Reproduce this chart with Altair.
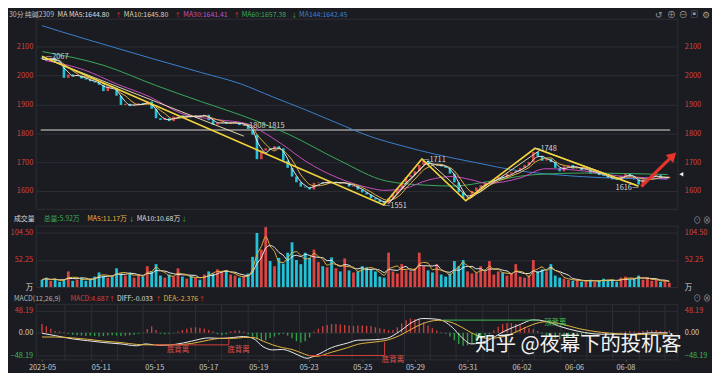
import altair as alt
import pandas as pd

# ---------------- data ----------------
first_open = 2062
close = [
    2058, 2052, 2062, 2048, 2040, 1992, 2004, 1998, 2000, 1990,
    1986, 1980, 1976, 1968, 1946, 1962, 1958, 1930, 1898, 1902,
    1894, 1898, 1904, 1900, 1910, 1885, 1852, 1846, 1852, 1842,
    1858, 1862, 1855, 1860, 1856, 1862, 1858, 1864, 1845, 1830,
    1836, 1840, 1832, 1836, 1838, 1828, 1830, 1815, 1795, 1710,
    1740, 1748, 1742, 1755, 1748, 1705, 1680, 1650, 1630, 1615,
    1612, 1605, 1628, 1630, 1625, 1632, 1628, 1630, 1626, 1628,
    1615, 1618, 1605, 1595, 1588, 1575, 1570, 1562, 1556, 1575,
    1590, 1610, 1625, 1648, 1655, 1668, 1690, 1705, 1690, 1688,
    1692, 1685, 1680, 1660, 1630, 1595, 1575, 1578, 1600, 1612,
    1620, 1630, 1632, 1640, 1650, 1645, 1660, 1665, 1670, 1680,
    1690, 1700, 1735, 1720, 1705, 1712, 1700, 1680, 1668, 1685,
    1690, 1678, 1682, 1672, 1676, 1660, 1665, 1655, 1652, 1645,
    1640, 1638, 1652, 1662, 1650, 1640, 1622, 1640, 1648, 1650,
    1655, 1642, 1645, 1648]

volume = [
    14, 18, 12, 16, 10, 14, 30, 12, 14, 18,
    12, 16, 20, 28, 22, 18, 20, 36, 26, 22,
    28, 18, 24, 20, 40, 30, 44, 22, 18, 24,
    20, 36, 20, 16, 22, 18, 14, 24, 30, 26,
    34, 30, 32, 24, 22, 18, 20, 26, 58, 104,
    72, 115, 50, 40, 56, 45, 66, 86, 52, 44,
    66, 56, 72, 48, 40, 38, 57, 36, 30, 55,
    32, 28, 30, 40, 38, 34, 30, 20, 18, 66,
    30, 26, 44, 32, 30, 36, 66, 40, 32, 28,
    44, 24, 20, 26, 50, 40, 52, 30, 26, 28,
    40, 30, 50, 24, 30, 28, 22, 26, 44, 20,
    18, 22, 52, 30, 34, 30, 44, 22, 18, 16,
    14, 12, 14, 10, 12, 14, 10, 12, 16, 12,
    14, 10, 18, 20, 14, 16, 22, 14, 18, 12,
    14, 10, 12, 8]

macd_hist = [
    19, 14, 9, 4, 3, 2,
    -2, -4, -5, -6, -7, -6, -7, -8, -7, -6, -5, -6, -7, -6, -5, -4, -2, -1,
    8, 14, 6, -2, -3, -2, -1,
    3, 6, 9, 11, 12, 11, 9, 6, 3,
    -3, -5, -3, 3, 5, 5, 3,
    -3, -8, -14, -17, -16, -12, -8, -4, -2,
    -6, -12, -18, -21, -18, -10,
    3, 9, 14, 17, 19, 19, 18, 17, 16, 15, 16,
    16, 15, 14, 12, 10, 8, 6, 6,
    12, 20, 27, 31, 30, 28, 22, 16, 10, 5,
    2, -2,
    -8, -16, -24, -28, -27, -24, -19, -13, -8, -3,
    5, 13, 19, 21, 21, 19, 16, 13, 10, 8, 4,
    -2, -6, -10, -13, -14, -13, -11, -9, -7, -5, -3,
    -2, -1, 1, 2, -1, -2, -1, 2, 3,
    4, 3, 2, 4, 6, 5, 6, 4, 4, 5]

macd_i = [0, 3.0, 6.9, 10.4, 14.1, 18.0, 21.5, 23.7, 26.8, 30.4, 34.1, 37.9, 40.8,
          43.7, 45.9, 48.1, 50.4, 52.6, 54.8, 57.0, 59.3, 60.4, 62.4, 66.0, 69.7,
          71.9, 75.7, 78.6, 81.5, 84.6, 86.8, 90.4, 93.5, 95.7, 97.9, 101.5, 105.3,
          109.0, 111.9, 114.8, 118.0, 122.4, 127.5, 131.3, 134.8, 138.6, 142.6]
diff = [-1, -6, -13, -17, -21, -24, -28, -24, -27, -25, -18, -11, -12,
        -10, -8, -12, -30, -37, -36, -42, -52, -55, -49, -32, -22,
        -16, -15, -12, 3, 24, 31, 29, 12, -10, -24, -17, 3,
        18, 28, 25, 14, 3, -3, -3, -3, 0, 0]
dea = [-9, -9, -11, -14, -18, -21, -25, -26, -26, -26, -23, -16, -12,
       -12, -10, -10, -18, -26, -32, -36, -44, -48, -51, -42, -32,
       -25, -20, -16, -6, 10, 20, 27, 22, 12, 0, -12, -8,
       6, 18, 24, 20, 9, 1, -2, -4, -3, -2.4]

ma30_i = [0.8, 9.7, 17.0, 24.6, 31.9, 40.1, 46.8, 49.7, 54.8, 60.1, 67.5, 74.8,
          77.9, 82.4, 88.1, 93.5, 97.5, 101.5, 109.0, 114.8, 123.7, 131.3, 138.6, 142.6]
ma30 = [2052, 2019, 1971, 1926, 1868, 1847, 1833, 1810, 1761, 1703, 1645, 1610,
        1602, 1608, 1638, 1650, 1640, 1626, 1645, 1677, 1669, 1652, 1645, 1641]
ma60_i = [0.1, 14.1, 25.9, 36.4, 45.3, 56.4, 67.5, 78.6, 87.5, 94.1, 101.5, 111.9,
          123.7, 134.1, 142.6]
ma60 = [2083, 2035, 1966, 1909, 1863, 1795, 1708, 1634, 1620, 1617, 1632, 1656,
        1662, 1660, 1657]
ma144_i = [0, 4.6, 14.1, 25.3, 36.4, 45.3, 52.6, 60.1, 67.5, 74.8, 82.4, 89.7,
           98.6, 109.0, 116.4, 127.5, 138.6, 142.6]
ma144 = [2173, 2151, 2108, 2058, 2010, 1971, 1926, 1881, 1834, 1789, 1755, 1727,
         1699, 1669, 1657, 1646, 1642, 1642]

date_pos = [0, 13.4, 25.6, 37.9, 49.3, 60.8, 73.0, 85.0, 97.0, 109.3, 121.3, 133.0]
date_lab = ["2023-05", "05-11", "05-15", "05-17", "05-19", "05-23", "05-25",
            "05-29", "05-31", "06-02", "06-06", "06-08"]

price_ticks = [1600, 1700, 1800, 1900, 2000, 2100]
vol_ticks = [0, 52.25, 104.5]
macd_ticks = [-48.19, 0, 48.19]

trend_main_i = [0, 77.9, 86.6, 96.6, 112.4, 136.0]
trend_main_p = [2067, 1551, 1711, 1566, 1748, 1616]
trend_pale_i = [0, 46]
trend_pale_p = [2064, 1790]
zig_pale_i = [79.0, 88.0, 97.5, 113.6, 135.4]
zig_pale_p = [1556, 1704, 1573, 1742, 1621]
level_price = 1811
arrow_i = [136.6, 143.8]
arrow_p = [1615, 1722]
last_price = 1658

pivot_text = ["—2067", "—1808-1815", "—1551", "—1711", "—1748", "1616—"]
pivot_i = [0.8, 45.7, 77.9, 86.8, 112.1, 136.0]
pivot_p = [2063, 1825, 1546, 1707, 1747, 1610]
pivot_align = ["left", "left", "left", "left", "left", "right"]

div_red_i = [25.3, 42.6, 42.6, 60.8, 78.1, 78.1]
div_red_v = [-26, -26, -12, -49, -49, -20]
div_red_g = [1, 1, 1, 2, 2, 2]
div_green_i = [91.3, 113.5]
div_green_v = [27.5, 27.5]
div_text = ["底背离", "底背离", "底背离", "顶背离"]
div_text_i = [31.0, 44.8, 80.0, 117.0]
div_text_v = [-37, -37, -59, 22]
div_text_c = ["red", "red", "red", "green"]

# ---------------- styling ----------------
FONT = "Noto Sans CJK SC"
BG = "#1b1c21"
GRID = "#2d2f35"
UP = "#dc4444"
DOWN = "#22c3d8"
LBL_RED = "#cf4340"
LBL_GREEN = "#3cb35a"
ARROW_RED = "#e5342b"
ARROW_GREEN = "#3fb950"
C_MA5 = "#e6e6e6"
C_MA10 = "#e3b341"
C_MA30 = "#c64fbe"
C_MA60 = "#3aa95a"
C_MA144 = "#3b80cc"
HIST_RED = "#c8403e"
HIST_GREEN = "#2fa048"
HS = 7  # header font size
AS = 6  # header arrow font size

W, H1, H2, H3 = 648, 192, 62, 56
N = len(close)

df = pd.DataFrame({"i": list(range(N)), "close": close, "vol": volume, "hist": macd_hist})
df["open"] = [first_open] + close[:-1]
df["z"] = 0
df["ma5"] = df["close"].rolling(3, min_periods=1).mean()
df["ma10"] = df["close"].rolling(5, min_periods=1).mean()
df["vma5"] = df["vol"].rolling(3, min_periods=1).mean()
df["vma10"] = df["vol"].rolling(5, min_periods=1).mean()

xs = alt.Scale(domain=[-0.3, 143.7], nice=False, zero=False)
ysp = alt.Scale(domain=[1538, 2197], nice=False, zero=False)
ysv = alt.Scale(domain=[0, 118], nice=False, zero=True)
ysm = alt.Scale(domain=[-57.3, 62.6], nice=False, zero=False)

grid_vals = [round(-0.74 + 5.944 * k, 2) for k in range(1, 25)]


def grid_axis(orient="bottom"):
    return alt.Axis(values=grid_vals, orient=orient, labels=False, ticks=False, domain=False,
                    grid=True, gridColor=GRID, gridWidth=1, title=None, minExtent=0, maxExtent=0)


def left_axis(values, color, fmt=None, expr=None):
    kw = dict(values=values, orient="left", grid=True, gridColor=GRID, gridWidth=1,
              ticks=False, domain=False, labelColor=color, labelFontSize=7.5, labelFont=FONT,
              labelPadding=3, minExtent=27, maxExtent=27, title=None, labelOverlap=False)
    if fmt:
        kw["format"] = fmt
    if expr:
        kw["labelExpr"] = expr
    return alt.Axis(**kw)


def right_axis(values, color, fmt=None, expr=None):
    kw = dict(values=values, orient="right", grid=False, ticks=False, domain=False,
              labelColor=color, labelFontSize=7.5, labelFont=FONT, labelPadding=7,
              minExtent=29, maxExtent=29, title=None, labelOverlap=False)
    if fmt:
        kw["format"] = fmt
    if expr:
        kw["labelExpr"] = expr
    return alt.Axis(**kw)


X = alt.X("i:Q", scale=xs, axis=None)


def txt(s, px, py, color, size=HS, align="left"):
    return alt.Chart(pd.DataFrame({"t": [s]})).mark_text(
        align=align, baseline="middle", fontSize=size, font=FONT, color=color
    ).encode(x=alt.value(px), y=alt.value(py), text="t:N")


def arrow_txt(s, px, py, color):
    return txt(s, px, py, color, AS, "center")


up_cond = alt.condition("datum.close >= datum.open", alt.value(UP), alt.value(DOWN))

# ---------------- price panel ----------------
level_df = pd.DataFrame({"i0": [-0.3], "i1": [143.2], "p": [level_price]})
level = alt.Chart(level_df).mark_rule(color="#8c8c8c", strokeWidth=2, opacity=0.85).encode(
    x=alt.X("i0:Q", scale=xs, axis=None), x2="i1:Q",
    y=alt.Y("p:Q", scale=ysp, axis=right_axis(price_ticks, LBL_RED, fmt="d")))

candles = alt.Chart(df).mark_bar(width=2.6).encode(
    x=alt.X("i:Q", scale=xs, axis=grid_axis()),
    y=alt.Y("open:Q", scale=ysp, axis=left_axis(price_ticks, LBL_RED, fmt="d")),
    y2="close:Q", color=up_cond)


def sparse_line(ii, vv, color, scale, width=1.0):
    d = pd.DataFrame({"i": ii, "v": vv})
    return alt.Chart(d).mark_line(color=color, strokeWidth=width, interpolate="monotone").encode(
        x=X, y=alt.Y("v:Q", scale=scale, axis=None))


ma_lines = [
    sparse_line(ma144_i, ma144, C_MA144, ysp),
    sparse_line(ma60_i, ma60, C_MA60, ysp),
    sparse_line(ma30_i, ma30, C_MA30, ysp),
    alt.Chart(df).mark_line(color=C_MA10, strokeWidth=1, interpolate="monotone").encode(
        x=X, y=alt.Y("ma10:Q", scale=ysp, axis=None)),
    alt.Chart(df).mark_line(color=C_MA5, strokeWidth=1, interpolate="monotone").encode(
        x=X, y=alt.Y("ma5:Q", scale=ysp, axis=None)),
]

trend_df = pd.DataFrame({"i": trend_main_i, "p": trend_main_p})
trend = alt.Chart(trend_df).mark_line(color="#f1d33c", strokeWidth=1.7).encode(
    x=X, y=alt.Y("p:Q", scale=ysp, axis=None))
pale_df = pd.DataFrame({"i": trend_pale_i + zig_pale_i,
                        "p": trend_pale_p + zig_pale_p,
                        "g": [1] * len(trend_pale_i) + [2] * len(zig_pale_i)})
pale = alt.Chart(pale_df).mark_line(color="#f4e9b8", strokeWidth=1, opacity=0.9).encode(
    x=X, y=alt.Y("p:Q", scale=ysp, axis=None), detail="g:N")

piv_df = pd.DataFrame({"t": pivot_text, "i": pivot_i, "p": pivot_p, "a": pivot_align})
piv_left = alt.Chart(piv_df[piv_df.a == "left"]).mark_text(
    align="left", baseline="middle", fontSize=7.5, font=FONT, color="#d6d6d6").encode(
    x=X, y=alt.Y("p:Q", scale=ysp, axis=None), text="t:N")
piv_right = alt.Chart(piv_df[piv_df.a == "right"]).mark_text(
    align="right", baseline="middle", fontSize=7.5, font=FONT, color="#d6d6d6").encode(
    x=X, y=alt.Y("p:Q", scale=ysp, axis=None), text="t:N")

arrow_df = pd.DataFrame({"i": arrow_i, "p": arrow_p})
arrow_line = alt.Chart(arrow_df).mark_line(color=ARROW_RED, strokeWidth=3.2).encode(
    x=X, y=alt.Y("p:Q", scale=ysp, axis=None))
arrow_head = alt.Chart(arrow_df.tail(1)).mark_point(
    shape="triangle-up", filled=True, size=120, angle=46, color=ARROW_RED, opacity=1).encode(
    x=X, y=alt.Y("p:Q", scale=ysp, axis=None))
last_mark = alt.Chart(pd.DataFrame({"p": [last_price]})).mark_point(
    shape="triangle-left", filled=True, size=22, color="#f0f0f0", opacity=1).encode(
    x=alt.value(W + 4), y=alt.Y("p:Q", scale=ysp, axis=None))

price_head = [
    txt("30分", -27, -4, "#bdbdbd"), txt("纯碱2309", -11, -4, "#bdbdbd"),
    txt("MA MA5:1644.80", 22, -4, "#dedede"), arrow_txt("↑", 83.5, -4, ARROW_RED),
    txt("MA10:1645.80", 89, -4, "#ddd3b6"), arrow_txt("↑", 143.5, -4, ARROW_RED),
    txt("MA30:1641.41", 149, -4, C_MA30), arrow_txt("↑", 203, -4, ARROW_RED),
    txt("MA60:1657.38", 208, -4, C_MA60), arrow_txt("↓", 261, -4, ARROW_GREEN),
    txt("MA144:1642.45", 266, -4, C_MA144),
    txt("↺", 629, -4, "#9a9a9a", 9, "center"), txt("⊕", 642, -4, "#9a9a9a", 9, "center"),
    txt("⊖", 654, -4, "#9a9a9a", 9, "center"), txt("▣", 665, -4, "#9a9a9a", 8, "center"),
    txt("⚙", 677, -4, "#9a9a9a", 9, "center"),
]

price = alt.layer(level, candles, *ma_lines, pale, trend, piv_left, piv_right,
                  arrow_line, arrow_head, last_mark, *price_head).resolve_axis(
    y="independent").properties(width=W, height=H1)

# ---------------- volume panel ----------------
vol_expr = "datum.value == 0 ? '万' : format(datum.value, '.2f')"
vol_color = {"condition": {"test": "datum.value == 0", "value": "#d8d8d8"}, "value": LBL_RED}
vbars = alt.Chart(df).mark_bar(width=2.8).encode(
    x=alt.X("i:Q", scale=xs, axis=grid_axis()),
    y=alt.Y("vol:Q", scale=ysv, axis=left_axis(vol_ticks, vol_color, expr=vol_expr)),
    color=up_cond)
vma10 = alt.Chart(df).mark_line(color="#e8e8e8", strokeWidth=1, interpolate="monotone").encode(
    x=X, y=alt.Y("vma10:Q", scale=ysv, axis=right_axis(vol_ticks, vol_color, expr=vol_expr)))
vma5 = alt.Chart(df).mark_line(color=C_MA10, strokeWidth=1, interpolate="monotone").encode(
    x=X, y=alt.Y("vma5:Q", scale=ysv, axis=None))
vol_head = [
    txt("成交量", -22, -7, "#d8d8d8"), txt("总量:5.92万", 8, -7, C_MA60),
    txt("MA5:11.17万", 52, -7, C_MA10), arrow_txt("↓", 97, -7, ARROW_GREEN),
    txt("MA10:10.68万", 102, -7, "#dedede"), arrow_txt("↓", 150, -7, ARROW_GREEN),
    txt("⊙", 668, -5, "#9a9a9a", 8, "center"), txt("⊗", 678, -5, "#9a9a9a", 8, "center"),
]
vol = alt.layer(vbars, vma10, vma5, *vol_head).resolve_axis(y="independent").properties(
    width=W, height=H2)

# ---------------- MACD panel ----------------
parts = [f"abs(datum.value - {p}) < 0.05 ? '{l}'" for p, l in zip(date_pos, date_lab)]
date_expr = " : ".join(parts) + " : ''"
date_axis = alt.Axis(values=date_pos, labelExpr=date_expr, orient="bottom", grid=False,
                     ticks=True, tickSize=2, tickColor="#555555", domain=False,
                     labelColor="#c8c8c8", labelFontSize=7.5, labelFont=FONT, labelPadding=2,
                     labelFlush=False, labelOverlap=False, title=None)
macd_color = {"condition": [{"test": "datum.value < 0", "value": LBL_GREEN},
                            {"test": "datum.value == 0", "value": "#cfcfcf"}],
              "value": LBL_RED}
hist = alt.Chart(df).mark_bar(width=1.4).encode(
    x=alt.X("i:Q", scale=xs, axis=date_axis),
    y=alt.Y("hist:Q", scale=ysm, axis=left_axis(macd_ticks, macd_color, fmt=".2f")),
    y2="z:Q",
    color=alt.condition("datum.hist >= 0", alt.value(HIST_RED), alt.value(HIST_GREEN)))
mdf = pd.DataFrame({"i": macd_i, "diff": diff, "dea": dea})
diff_line = alt.Chart(mdf).mark_line(color="#ececec", strokeWidth=1, interpolate="monotone").encode(
    x=alt.X("i:Q", scale=xs, axis=grid_axis("top")),
    y=alt.Y("diff:Q", scale=ysm, axis=right_axis(macd_ticks, macd_color, fmt=".2f")))
dea_line = alt.Chart(mdf).mark_line(color=C_MA10, strokeWidth=1, interpolate="monotone").encode(
    x=X, y=alt.Y("dea:Q", scale=ysm, axis=None))

red_df = pd.DataFrame({"i": div_red_i, "v": div_red_v, "g": div_red_g})
red_lines = alt.Chart(red_df).mark_line(color="#d0403c", strokeWidth=1).encode(
    x=X, y=alt.Y("v:Q", scale=ysm, axis=None), detail="g:N")
green_df = pd.DataFrame({"i": div_green_i, "v": div_green_v})
green_lines = alt.Chart(green_df).mark_line(color="#3fbf55", strokeWidth=1).encode(
    x=X, y=alt.Y("v:Q", scale=ysm, axis=None))
dt_df = pd.DataFrame({"t": div_text, "i": div_text_i, "v": div_text_v, "c": div_text_c})
div_labels = alt.Chart(dt_df).mark_text(
    align="center", baseline="middle", fontSize=7.5, font=FONT).encode(
    x=X, y=alt.Y("v:Q", scale=ysm, axis=None), text="t:N",
    color=alt.Color("c:N", scale=alt.Scale(domain=["red", "green"], range=["#e0524c", "#45c85c"]),
                    legend=None))
watermark = txt("知乎 @夜幕下的投机客", 444, 41.5, "#f2f2f2", 20.5)
macd_head = [
    txt("MACD(12,26,9)", -22, -5, "#b5b5b5"), txt("MACD:4.687", 35, -5, LBL_RED),
    arrow_txt("↑", 77, -5, ARROW_RED), txt("DIFF:-0.033", 82, -5, "#dedede"),
    arrow_txt("↑", 124, -5, ARROW_RED), txt("DEA:-2.376", 129, -5, C_MA10),
    arrow_txt("↑", 168, -5, ARROW_RED),
    txt("⊙", 668, -5, "#9a9a9a", 8, "center"), txt("⊗", 678, -5, "#9a9a9a", 8, "center"),
]
macd = alt.layer(hist, diff_line, dea_line, red_lines, green_lines, div_labels, watermark,
                 *macd_head).resolve_axis(x="independent", y="independent").properties(
    width=W, height=H3)

chart = alt.vconcat(price, vol, macd, spacing=17, bounds="flush").resolve_scale(
    y="independent").properties(
    padding={"left": 0, "top": 0, "right": 0, "bottom": 0}
).configure(background=BG).configure_view(stroke=GRID, strokeWidth=1)

chart.save("out.html", embed_options={"renderer": "svg", "actions": False})
